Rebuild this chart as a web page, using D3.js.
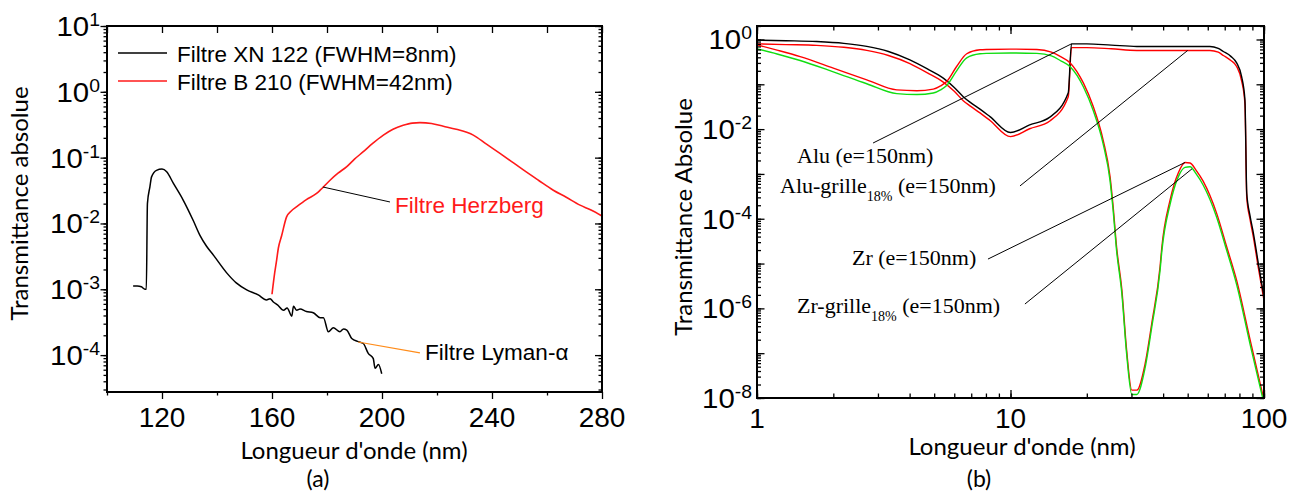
<!DOCTYPE html>
<html>
<head>
<meta charset="utf-8">
<script src="https://cdn.jsdelivr.net/npm/d3@7"></script>
<style>
  body { margin: 0; background: #fff; }
  svg { display: block; }
</style>
</head>
<body>
<svg id="fig" width="1303" height="495"></svg>
<script>
// ---------- Panel (a): filter transmittance vs wavelength (nm) ----------
const xnWavelength = [109.5,111,112.5,113.8,114.3,114.7,115.6,116.2,118,120,121.7,124.1,127.7,131.4,133.8,136.2,138.7,143.6,147,150.8,155,158,159.3,160.5,162,164.2,165.5,167.2,167.8,169,170.2,172.5,175,177.5,178.7,180.5,182.3,184.7,186,187.2,189,191.4,193.2,195,196.8,197.5,198.7,199.9];
const xnTransmit = [1.12e-3,1.12e-3,1.09e-3,1.0e-3,1.0e-3,0.02,0.036,0.051,0.064,0.067,0.061,0.041,0.0227,0.011,0.0066,0.0045,0.0033,0.00176,0.00125,0.00098,0.00082,0.00069,0.00072,0.00064,0.00058,0.00048,0.00052,0.00039,0.00055,0.00048,0.0005,0.00046,0.00044,0.00037,0.00037,0.000226,0.00026,0.000226,0.00025,0.00024,0.000179,0.00016,0.00015,0.000106,0.000089,0.000063,0.000072,0.000052];

const b210Wavelength = [160,161,161.7,162.3,163.5,165.3,167,169,172.5,176.2,177.5,181,184,187.2,190,193.2,196.5,200.5,204,207.7,211,213.8,218,222.3,227,233.2,238,242.9,247,251.4,257,262.3,267,272,276,280];
const b210Transmit = [8.4e-4,1.8e-3,2.8e-3,4.2e-3,6.5e-3,0.0126,0.0155,0.018,0.023,0.0286,0.032,0.045,0.058,0.073,0.095,0.123,0.163,0.22,0.27,0.31,0.335,0.34,0.33,0.30,0.27,0.22,0.16,0.116,0.088,0.065,0.045,0.032,0.025,0.019,0.016,0.013];

const legendA = ["Filtre XN 122 (FWHM=8nm)", "Filtre B 210 (FWHM=42nm)"];
const xTicksA = [120,160,200,240,280];
const xMinorA = [100,140,180,220,260];
const yExpA = [1,0,-1,-2,-3,-4];

// ---------- Panel (b): thin-film transmittance, log-log ----------
const aluWavelength = [1,1.3,1.72,2.2,2.71,3.3,4.01,4.7,5.43,6.0,6.51,6.92,7.58,8.3,10,11.9,14.3,16.9,17.4,20,25,31.5,45,61.2,66,69.1,74,78,81.6,84.1,85.5,88,90.8,95,100];
const aluTransmit = [0.97,0.94,0.90,0.82,0.70,0.54,0.35,0.22,0.137,0.085,0.053,0.040,0.028,0.019,0.0084,0.0124,0.0185,0.065,0.80,0.80,0.75,0.70,0.70,0.70,0.63,0.54,0.42,0.30,0.148,0.045,3.7e-4,1.2e-4,4.8e-5,1e-5,1.8e-6];
const aluGridTransmit = [0.80,0.77,0.74,0.67,0.57,0.44,0.29,0.18,0.112,0.070,0.043,0.033,0.023,0.0156,0.0068,0.0102,0.0152,0.053,0.66,0.66,0.62,0.57,0.57,0.57,0.52,0.44,0.34,0.25,0.12,0.037,3.0e-4,1.0e-4,3.9e-5,8e-6,1.5e-6];

const zrWavelength = [1,1.2,1.48,2.0,2.71,3.56,4.27,4.96,5.3,5.6,6.13,6.72,7.58,8.06,10,12.7,14.5,15.7,17.2,19.4,21.2,23.2,24.7,25.4,26.2,27.5,28.7,30.1,31.5,33.9,36.1,38.9,39.5,42.6,45.9,48.8,51.1,54,57.6,65.1,71.2,78,88.1,100];
const zrTransmit = [0.76,0.58,0.415,0.23,0.126,0.075,0.072,0.078,0.092,0.115,0.25,0.48,0.59,0.60,0.61,0.60,0.52,0.42,0.30,0.106,0.032,0.0057,8.7e-4,1.9e-4,2.4e-5,2.6e-6,1.2e-7,1.5e-8,1.5e-8,5.5e-8,4.7e-7,8.5e-6,2.2e-5,2.6e-4,1.05e-3,1.8e-3,1.75e-3,1.2e-3,6.8e-4,1.3e-4,2.4e-5,4.2e-6,2e-7,9e-9];
const zrGridTransmit = [0.62,0.475,0.34,0.19,0.103,0.062,0.059,0.064,0.075,0.094,0.2,0.39,0.48,0.49,0.50,0.49,0.43,0.34,0.245,0.087,0.026,0.0047,7.1e-4,1.55e-4,2.0e-5,2.1e-6,1.0e-7,1.2e-8,1.2e-8,4.5e-8,3.9e-7,7.0e-6,1.8e-5,2.1e-4,8.6e-4,1.4e-3,1.45e-3,1.0e-3,5.6e-4,1.07e-4,2.0e-5,3.4e-6,1.6e-7,7.5e-9];

const annoNames = ["Alu", "Alu-grille", "Zr", "Zr-grille"];
const annoSubs = ["", "18%", "", "18%"];
const annoThickness = " (e=150nm)";
// leader lines: label end -> point on curve, in (nm, transmittance)
const annoFrom = [[2.87,4.9e-3],[10.9,5.4e-4],[8.15,1.26e-5],[11.4,1.25e-6]];
const annoTo = [[17.4,0.80],[50,0.57],[48.8,1.8e-3],[52,1.3e-3]];
const xTicksB = [1,10,100];
const yExpB = [0,-2,-4,-6,-8];

// ---------- shared helpers ----------
const svg = d3.select("#fig");
const SANS = "'Liberation Sans', Arial, sans-serif";
const CAPTION = "Lato, 'Open Sans', sans-serif";
const SERIF = "'Liberation Serif', 'Times New Roman', serif";

function logMinors(lo, hi) {
  const out = [];
  for (let e = Math.floor(Math.log10(lo)); e <= Math.ceil(Math.log10(hi)); e++) {
    for (let m = 1; m <= 9; m++) {
      const v = m * Math.pow(10, e);
      if (v >= lo * 0.999 && v <= hi * 1.001) out.push(v);
    }
  }
  return out;
}

function tickRow(g, axisFn, scale, values, size, tr) {
  const a = g.append("g").attr("transform", tr)
    .call(axisFn(scale).tickValues(values).tickSize(size).tickPadding(0).tickFormat(""));
  a.select(".domain").remove();
  a.selectAll("line").attr("stroke", "#000").attr("stroke-width", 1.3);
  a.selectAll("text").remove();
}

function powLabel(g, x, y, exp, size, sx) {
  const t = g.append("text")
    .attr("transform", `translate(${x},${y}) scale(${sx},1)`)
    .attr("text-anchor", "end")
    .style("font-family", SANS).style("font-size", size + "px").attr("fill", "#000");
  t.append("tspan").text("10");
  t.append("tspan").attr("dy", -0.36 * size).style("font-size", (size * 0.66) + "px").text(String(exp));
}

// ================= Panel (a) =================
const A = { l: 107, r: 602, t: 26, b: 392 };
const xA = d3.scaleLinear().domain([100, 280]).range([A.l, A.r]);
const yA = d3.scaleLog().domain([2.75e-5, 10]).range([A.b, A.t]);
const gA = svg.append("g");

svg.append("clipPath").attr("id", "clipA").append("rect")
  .attr("x", A.l).attr("y", A.t).attr("width", A.r - A.l).attr("height", A.b - A.t);

const lineA = d3.line().x(d => xA(d[0])).y(d => yA(d[1])).curve(d3.curveMonotoneX);

const plotA = gA.append("g").attr("clip-path", "url(#clipA)");
plotA.append("path").datum(d3.zip(b210Wavelength, b210Transmit))
  .attr("d", lineA).attr("fill", "none").attr("stroke", "#ff1a1a").attr("stroke-width", 1.6);
plotA.append("path").datum(d3.zip(xnWavelength, xnTransmit))
  .attr("d", lineA).attr("fill", "none").attr("stroke", "#000").attr("stroke-width", 1.5)
  .attr("stroke-linejoin", "round");

// ticks
const decA = [10, 1, 0.1, 0.01, 1e-3, 1e-4];
tickRow(gA, d3.axisLeft, yA, logMinors(2.75e-5, 10), 3.5, `translate(${A.l},0)`);
tickRow(gA, d3.axisLeft, yA, decA, 6.5, `translate(${A.l},0)`);
tickRow(gA, d3.axisRight, yA, logMinors(2.75e-5, 10), -3.5, `translate(${A.r},0)`);
tickRow(gA, d3.axisRight, yA, decA, -7, `translate(${A.r},0)`);
tickRow(gA, d3.axisBottom, xA, xTicksA, 7, `translate(0,${A.b})`);
tickRow(gA, d3.axisBottom, xA, xMinorA, 3.5, `translate(0,${A.b})`);
tickRow(gA, d3.axisTop, xA, d3.range(100, 281, 20), -7, `translate(0,${A.t})`);

gA.append("rect").attr("x", A.l).attr("y", A.t).attr("width", A.r - A.l).attr("height", A.b - A.t)
  .attr("fill", "none").attr("stroke", "#000").attr("stroke-width", 2);

// tick labels
xTicksA.forEach(v => {
  gA.append("text").attr("x", xA(v)).attr("y", 427).attr("text-anchor", "middle")
    .style("font-family", SANS).style("font-size", "28px").text(v);
});
yExpA.forEach(e => powLabel(gA, 100, yA(Math.pow(10, e)) + 10, e, 28, 1.05));

// axis titles
gA.append("text").attr("transform", `translate(28,203.5) rotate(-90)`).attr("text-anchor", "middle")
  .style("font-family", CAPTION).style("font-size", "24px").text("Transmittance absolue");
gA.append("text").attr("x", 354).attr("y", 459).attr("text-anchor", "middle")
  .style("font-family", CAPTION).style("font-size", "24px").text("Longueur d'onde (nm)");
gA.append("text").attr("x", 318).attr("y", 487).attr("text-anchor", "middle")
  .style("font-family", CAPTION).style("font-size", "23px").text("(a)");

// legend
const legColors = ["#000", "#ff1a1a"];
legendA.forEach((s, i) => {
  const y = 53 + i * 28;
  gA.append("line").attr("x1", 118).attr("x2", 167).attr("y1", y).attr("y2", y)
    .attr("stroke", legColors[i]).attr("stroke-width", 1.6);
  gA.append("text").attr("x", 177).attr("y", y + 9).style("font-family", SANS)
    .style("font-size", "22.5px").text(s);
});

// annotations
const hzFrom = [178.5, 0.0358], hzTo = [202.9, 0.0212];
gA.append("line").attr("x1", xA(hzFrom[0])).attr("y1", yA(hzFrom[1]))
  .attr("x2", xA(hzTo[0])).attr("y2", yA(hzTo[1])).attr("stroke", "#000").attr("stroke-width", 1);
gA.append("text").attr("x", xA(hzTo[0]) + 5).attr("y", yA(hzTo[1]) + 11)
  .style("font-family", SANS).style("font-size", "22.5px").attr("fill", "#ff1a1a").text("Filtre Herzberg");

const lyFrom = [191.3, 1.58e-4], lyTo = [213.8, 1.08e-4];
gA.append("line").attr("x1", xA(lyFrom[0])).attr("y1", yA(lyFrom[1]))
  .attr("x2", xA(lyTo[0])).attr("y2", yA(lyTo[1])).attr("stroke", "#ff8c1a").attr("stroke-width", 1.2);
gA.append("text").attr("x", xA(lyTo[0]) + 5).attr("y", yA(lyTo[1]) + 7)
  .style("font-family", SANS).style("font-size", "22.5px").text("Filtre Lyman-α");

// ================= Panel (b) =================
const B = { l: 757, r: 1264, t: 26, b: 398 };
const xB = d3.scaleLog().domain([1, 100]).range([B.l, B.r]);
const yB = d3.scaleLog().domain([1e-8, 2]).range([B.b, B.t]);
const gB = svg.append("g");

svg.append("clipPath").attr("id", "clipB").append("rect")
  .attr("x", B.l).attr("y", B.t).attr("width", B.r - B.l).attr("height", B.b - B.t);

const lineB = d3.line().x(d => xB(d[0])).y(d => yB(d[1])).curve(d3.curveMonotoneX);
const plotB = gB.append("g").attr("clip-path", "url(#clipB)");
const seriesB = [
  [aluWavelength, aluGridTransmit, "#ff0000"],
  [aluWavelength, aluTransmit, "#000000"],
  [zrWavelength, zrTransmit, "#ff0000"],
  [zrWavelength, zrGridTransmit, "#11dd11"]
];
seriesB.forEach(([w, t, c]) => {
  plotB.append("path").datum(d3.zip(w, t)).attr("d", lineB)
    .attr("fill", "none").attr("stroke", c).attr("stroke-width", 1.4);
});

// ticks (all inward)
const decB = [1, 0.1, 0.01, 1e-3, 1e-4, 1e-5, 1e-6, 1e-7, 1e-8];
const minB = logMinors(1e-8, 2);
tickRow(gB, d3.axisLeft, yB, minB, -4, `translate(${B.l},0)`);
tickRow(gB, d3.axisLeft, yB, decB, -7.5, `translate(${B.l},0)`);
tickRow(gB, d3.axisRight, yB, minB, -4, `translate(${B.r},0)`);
tickRow(gB, d3.axisRight, yB, decB, -7.5, `translate(${B.r},0)`);
const minXB = logMinors(1, 100);
tickRow(gB, d3.axisBottom, xB, minXB, -4.5, `translate(0,${B.b})`);
tickRow(gB, d3.axisBottom, xB, xTicksB, -8, `translate(0,${B.b})`);
tickRow(gB, d3.axisTop, xB, minXB, -4.5, `translate(0,${B.t})`);
tickRow(gB, d3.axisTop, xB, xTicksB, -8, `translate(0,${B.t})`);

gB.append("rect").attr("x", B.l).attr("y", B.t).attr("width", B.r - B.l).attr("height", B.b - B.t)
  .attr("fill", "none").attr("stroke", "#000").attr("stroke-width", 2);

xTicksB.forEach(v => {
  gB.append("text").attr("x", xB(v)).attr("y", 428).attr("text-anchor", "middle")
    .style("font-family", SANS).style("font-size", "28px").text(v);
});
yExpB.forEach(e => powLabel(gB, 752, yB(Math.pow(10, e)) + 10, e, 28, 1.05));

gB.append("text").attr("transform", `translate(692,217) rotate(-90)`).attr("text-anchor", "middle")
  .style("font-family", CAPTION).style("font-size", "24px").text("Transmittance Absolue");
gB.append("text").attr("x", 1022).attr("y", 455).attr("text-anchor", "middle")
  .style("font-family", CAPTION).style("font-size", "24px").text("Longueur d'onde (nm)");
gB.append("text").attr("x", 979).attr("y", 487).attr("text-anchor", "middle")
  .style("font-family", CAPTION).style("font-size", "23px").text("(b)");

// curve labels with leader lines
const annoLayout = [{ x: 797, y: 163 }, { x: 780, y: 193 }, { x: 852, y: 265 }, { x: 797, y: 313 }];
annoNames.forEach((name, i) => {
  gB.append("line")
    .attr("x1", xB(annoFrom[i][0])).attr("y1", yB(annoFrom[i][1]))
    .attr("x2", xB(annoTo[i][0])).attr("y2", yB(annoTo[i][1]))
    .attr("stroke", "#000").attr("stroke-width", 1);
  const t = gB.append("text").attr("x", annoLayout[i].x).attr("y", annoLayout[i].y)
    .style("font-family", SERIF).style("font-size", "22px");
  t.append("tspan").text(name);
  if (annoSubs[i]) {
    t.append("tspan").attr("dy", 8).style("font-size", "14px").text(annoSubs[i]);
    t.append("tspan").attr("dy", -8).text(annoThickness);
  } else {
    t.append("tspan").text(annoThickness);
  }
});
</script>
</body>
</html>
